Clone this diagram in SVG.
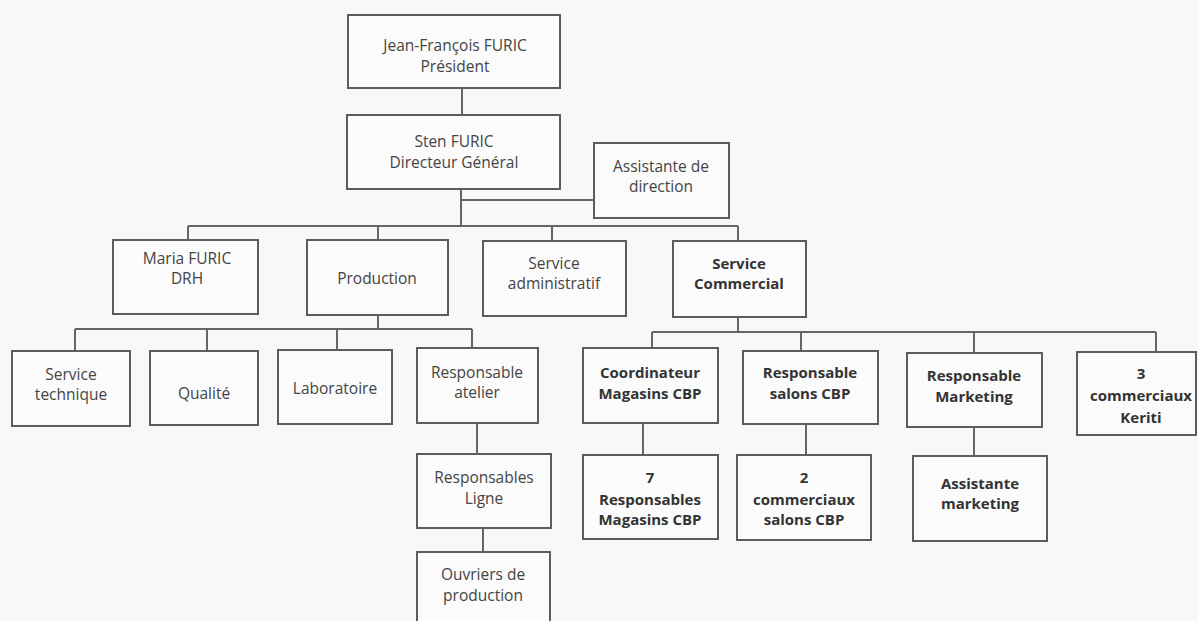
<svg xmlns="http://www.w3.org/2000/svg" width="1198" height="621" viewBox="0 0 1198 621">
<style>
.bx{fill:#fbfbfb;stroke:#5c5c5c;stroke-width:2}
.t{font-family:"Open Sans","Liberation Sans",sans-serif;font-size:15.5px;fill:#444;text-anchor:middle}
.b{font-family:"Open Sans","Liberation Sans",sans-serif;font-size:15px;font-weight:bold;fill:#333;text-anchor:middle}
.c{fill:none;stroke:#666;stroke-width:2}
</style>
<rect x="0" y="0" width="1198" height="621" fill="#f8f8f8"/>
<g id="connectors">
<path class="c" d="M462 88V115"/>
<path class="c" d="M461 189V226M461 200H594"/>
<path class="c" d="M188 226H738M188 226V240M378 226V240M552 226V241M738 226V241"/>
<path class="c" d="M378 315V329M75 329H472M75 329V351M207 329V351M337 329V350M472 329V348"/>
<path class="c" d="M477 423V454M483 528V552"/>
<path class="c" d="M738 317V332M652 332H1156M652 332V348M801 332V351M974 332V353M1156 332V352"/>
<path class="c" d="M643 423V455M806 424V455M974 427V456"/>
</g>
<g id="president"><rect class="bx" x="348" y="15" width="212" height="73"/><text class="t" x="455" y="51">Jean-François FURIC</text><text class="t" x="455" y="72">Président</text></g>
<g id="dg"><rect class="bx" x="347" y="115" width="213" height="74"/><text class="t" x="454" y="147">Sten FURIC</text><text class="t" x="454" y="168">Directeur Général</text></g>
<g id="assistante-direction"><rect class="bx" x="594" y="143" width="135" height="75"/><text class="t" x="661" y="172">Assistante de</text><text class="t" x="661" y="192">direction</text></g>
<g id="drh"><rect class="bx" x="113" y="240" width="145" height="74"/><text class="t" x="187" y="264">Maria FURIC</text><text class="t" x="187" y="284">DRH</text></g>
<g id="production"><rect class="bx" x="307" y="240" width="141" height="75"/><text class="t" x="377" y="284">Production</text></g>
<g id="service-admin"><rect class="bx" x="483" y="241" width="143" height="75"/><text class="t" x="554" y="269">Service</text><text class="t" x="554" y="289">administratif</text></g>
<g id="service-commercial"><rect class="bx" x="673" y="241" width="133" height="76"/><text class="b" x="739" y="269">Service</text><text class="b" x="739" y="289">Commercial</text></g>
<g id="service-technique"><rect class="bx" x="12" y="351" width="118" height="75"/><text class="t" x="71" y="380">Service</text><text class="t" x="71" y="400">technique</text></g>
<g id="qualite"><rect class="bx" x="150" y="351" width="108" height="74"/><text class="t" x="204" y="399">Qualité</text></g>
<g id="laboratoire"><rect class="bx" x="278" y="350" width="114" height="74"/><text class="t" x="335" y="394">Laboratoire</text></g>
<g id="resp-atelier"><rect class="bx" x="417" y="348" width="121" height="75"/><text class="t" x="477" y="378">Responsable</text><text class="t" x="477" y="398">atelier</text></g>
<g id="resp-ligne"><rect class="bx" x="417" y="454" width="134" height="74"/><text class="t" x="484" y="483">Responsables</text><text class="t" x="484" y="504">Ligne</text></g>
<g id="ouvriers"><rect class="bx" x="417" y="552" width="133" height="80"/><text class="t" x="483" y="580">Ouvriers de</text><text class="t" x="483" y="601">production</text></g>
<g id="coordinateur"><rect class="bx" x="583" y="348" width="135" height="75"/><text class="b" x="650" y="378">Coordinateur</text><text class="b" x="650" y="399">Magasins CBP</text></g>
<g id="resp-salons"><rect class="bx" x="743" y="351" width="135" height="73"/><text class="b" x="810" y="378">Responsable</text><text class="b" x="810" y="399">salons CBP</text></g>
<g id="resp-marketing"><rect class="bx" x="907" y="353" width="135" height="74"/><text class="b" x="974" y="381">Responsable</text><text class="b" x="974" y="402">Marketing</text></g>
<g id="commerciaux-keriti"><rect class="bx" x="1077" y="352" width="119" height="83"/><text class="b" x="1141" y="379">3</text><text class="b" x="1141" y="401">commerciaux</text><text class="b" x="1141" y="423">Keriti</text></g>
<g id="resp-magasins"><rect class="bx" x="583" y="455" width="135" height="84"/><text class="b" x="650" y="483">7</text><text class="b" x="650" y="505">Responsables</text><text class="b" x="650" y="525">Magasins CBP</text></g>
<g id="commerciaux-salons"><rect class="bx" x="737" y="455" width="134" height="85"/><text class="b" x="804" y="483">2</text><text class="b" x="804" y="505">commerciaux</text><text class="b" x="804" y="525">salons CBP</text></g>
<g id="assistante-marketing"><rect class="bx" x="913" y="456" width="134" height="85"/><text class="b" x="980" y="489">Assistante</text><text class="b" x="980" y="509">marketing</text></g>
</svg>
